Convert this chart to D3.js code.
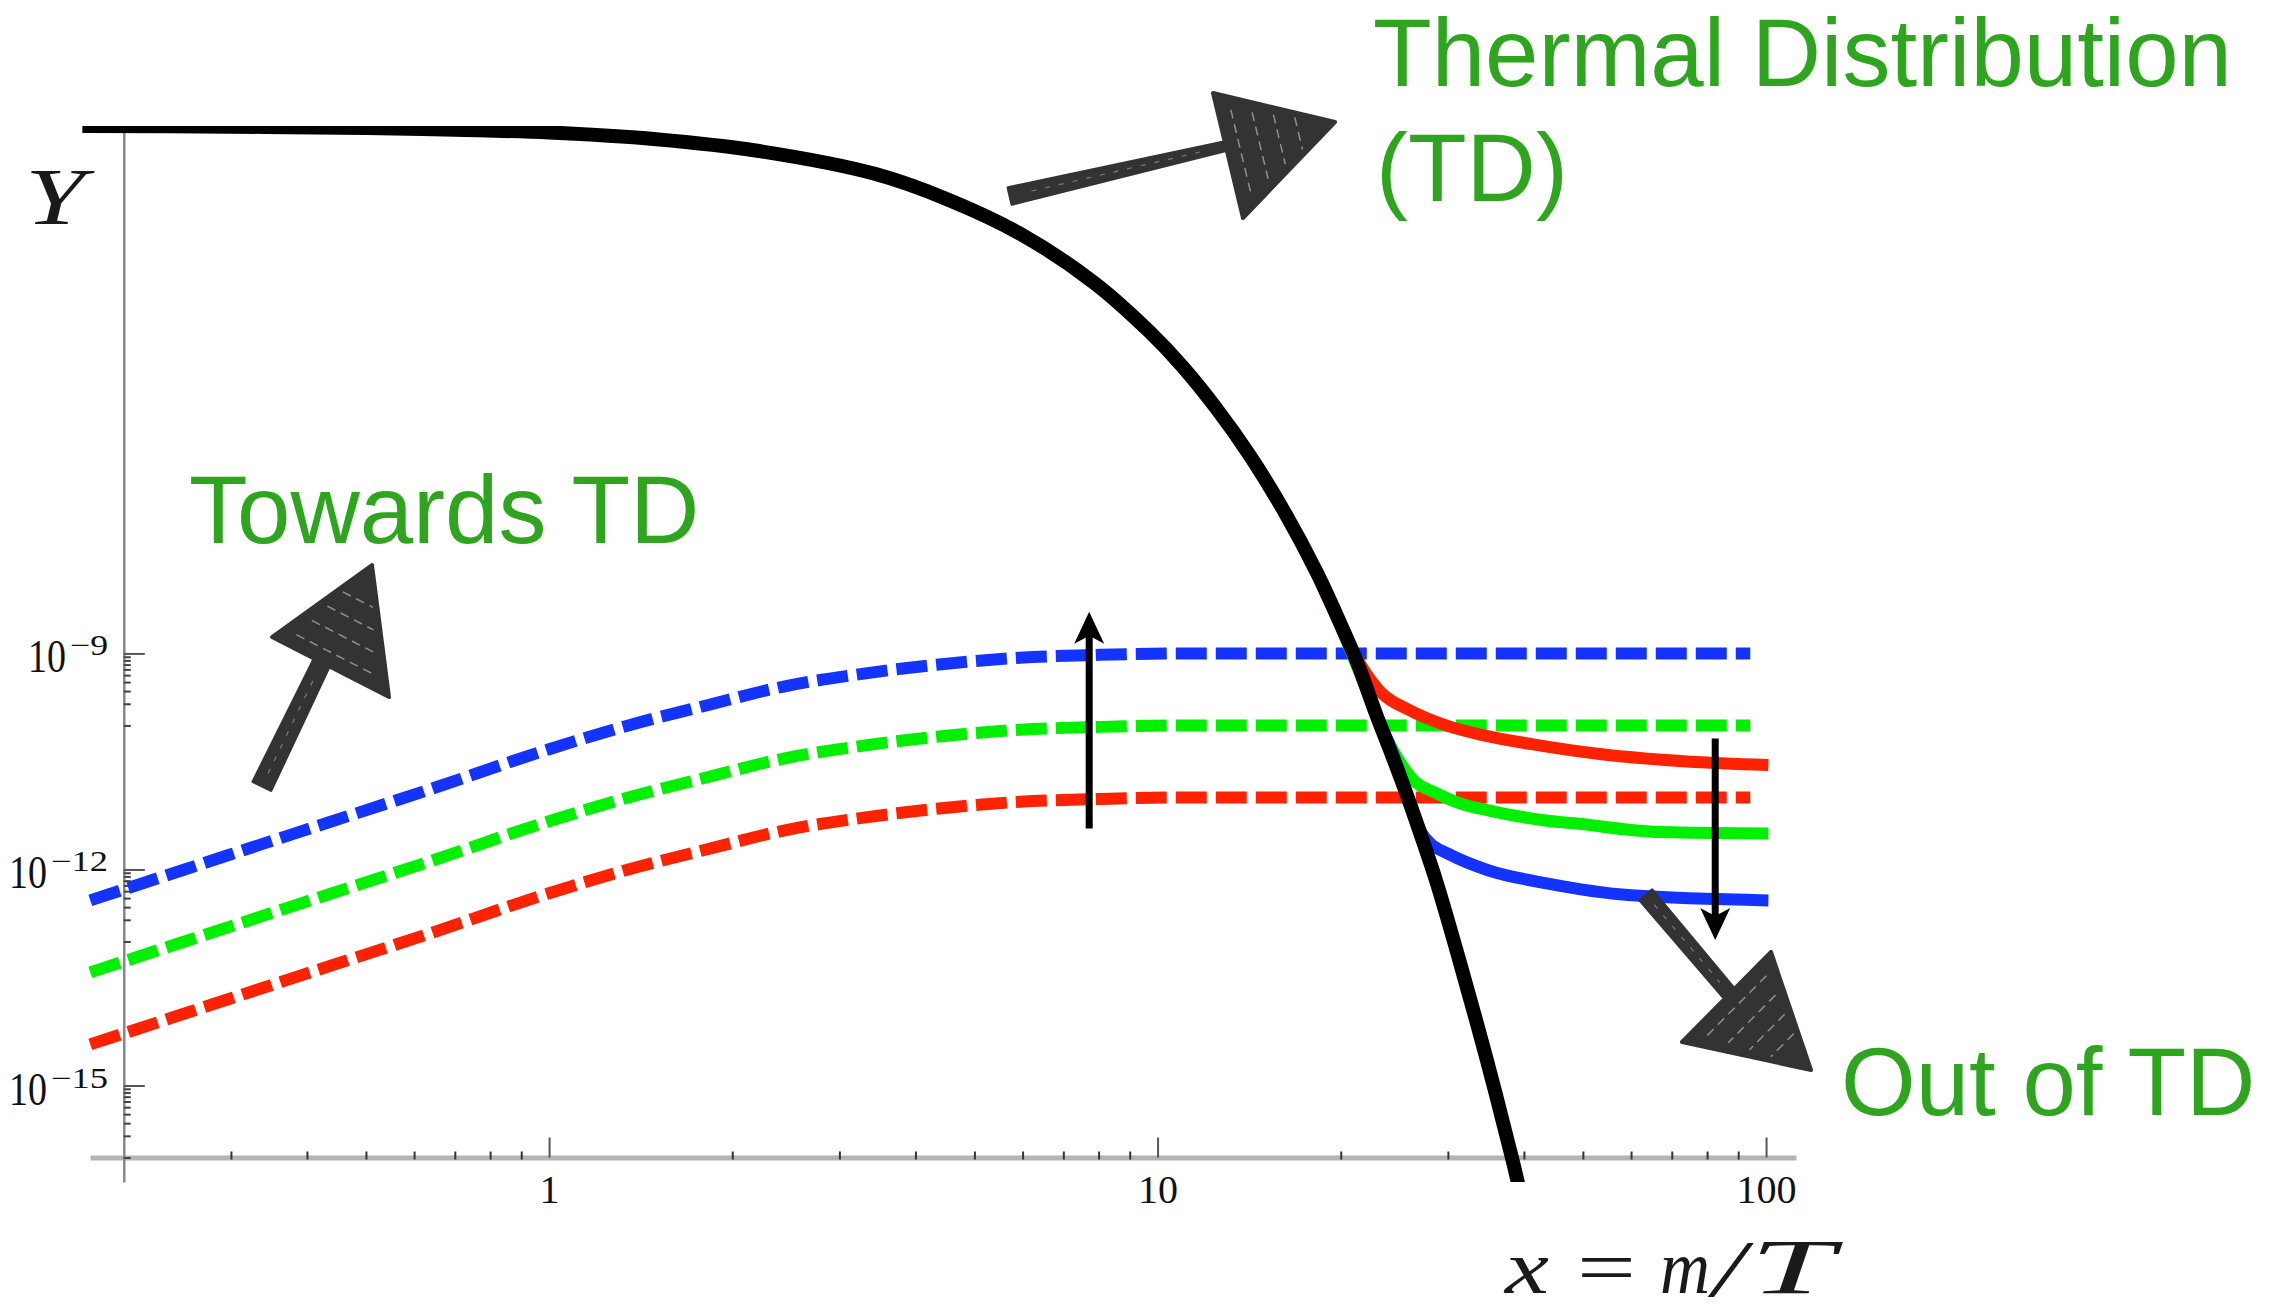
<!DOCTYPE html>
<html>
<head>
<meta charset="utf-8">
<script src="https://cdn.jsdelivr.net/npm/d3@7"></script>
<style>
  body { margin: 0; background: #fff; }
  svg { display: block; background: #fff; }
</style>
</head>
<body>
<svg id="chart" width="2287" height="1314"></svg>
<script>
"use strict";

// thermal (equilibrium) curve
const eqX = [0.171, 0.3, 0.5, 0.7, 1.0, 1.5, 2.2, 3.43, 4.53, 5.97, 7.87, 9.72, 11.0, 12.5, 14.2, 16.1, 18.3, 20.2, 21.3, 22.9, 24.3, 25.7, 27.0, 28.7, 31.3, 34.7, 38.2, 39.6];
const eqY = [0.02109, 0.02061, 0.01982, 0.01866, 0.01714, 0.01384, 0.00955, 4.57e-3, 2.0e-3, 6.61e-4, 1.40e-4, 2.88e-5, 9.55e-6, 2.51e-6, 5.5e-7, 9.77e-8, 1.29e-8, 2.09e-9, 7.41e-10, 1.38e-10, 3.80e-11, 1.07e-11, 3.24e-12, 6.92e-13, 5.62e-14, 2.40e-15, 1.02e-16, 2.82e-17];

// dashed curves (freeze-in), shared x positions
const dashX = [0.1762, 0.251, 0.398, 0.631, 1.0, 1.35, 1.82, 2.43, 3.29, 4.42, 5.94, 8.04, 11.2, 94.2];
const dashBlue = [3.72e-13, 9.9e-13, 3.55e-12, 1.26e-11, 4.68e-11, 1.0e-10, 1.91e-10, 3.47e-10, 5.25e-10, 7.08e-10, 8.71e-10, 9.55e-10, 1.0e-9, 1.0e-9];
const dashGreen = [3.72e-14, 9.9e-14, 3.55e-13, 1.26e-12, 4.68e-12, 1.0e-11, 1.91e-11, 3.47e-11, 5.25e-11, 7.08e-11, 8.71e-11, 9.55e-11, 1.0e-10, 1.0e-10];
const dashRed = [3.72e-15, 9.9e-15, 3.55e-14, 1.26e-13, 4.68e-13, 1.0e-12, 1.91e-12, 3.47e-12, 5.25e-12, 7.08e-12, 8.71e-12, 9.55e-12, 1.0e-11, 1.0e-11];

// solid curves (freeze-out)
const redX = [17.78, 19.82, 21.64, 23.34, 25.82, 30.04, 34.08, 41.18, 53.7, 74.1, 100.9];
const redY = [2.14e-8, 2.82e-9, 6.61e-10, 2.82e-10, 1.66e-10, 9.77e-11, 7.41e-11, 5.50e-11, 3.98e-11, 3.16e-11, 2.82e-11];
const greenX = [19.95, 21.25, 22.92, 23.77, 25.20, 26.33, 28.72, 31.32, 34.92, 43.40, 48.37, 66.96, 100.9];
const greenY = [2.51e-9, 6.76e-10, 1.38e-10, 6.76e-11, 2.82e-11, 1.74e-11, 1.15e-11, 8.32e-12, 6.61e-12, 4.79e-12, 4.37e-12, 3.31e-12, 3.16e-12];
const blueX = [22.39, 24.27, 26.33, 27.2, 28.09, 30.0, 34.92, 43.40, 60.1, 100.9];
const blueY = [2.19e-10, 4.47e-11, 6.31e-12, 3.16e-12, 2.29e-12, 1.66e-12, 9.77e-13, 6.46e-13, 4.37e-13, 3.72e-13];

// ticks
const xTickValues = [1, 10, 100];
const xTickLabels = ["1", "10", "100"];
const yTickValues = [1e-9, 1e-12, 1e-15];
const yTickExps = ["\u22129", "\u221212", "\u221215"];

// thin black arrows (x, from, to)
const arrowX = [7.72, 82.5];
const arrowFrom = [3.72e-12, 6.61e-11];
const arrowTo = [3.8e-9, 1.05e-13];

const green = "#2fa51f";
const serif = "'Liberation Serif', 'Times New Roman', serif";
const svg = d3.select("#chart");

const x = d3.scaleLog().domain([0.176, 112]).range([90, 1796]);
const y = d3.scaleLog().domain([Math.pow(10, -16.34), Math.pow(10, -1.676)]).range([1182, 126]);
const xOrigin = x(0.2);
const yOrigin = y(1e-16);

const zip = (xs, ys) => xs.map((v, i) => [v, ys[i]]);
const line = d3.line().x(d => x(d[0])).y(d => y(d[1])).curve(d3.curveMonotoneX);
const smoothLine = d3.line().x(d => x(d[0])).y(d => y(d[1])).curve(d3.curveCatmullRom.alpha(0.5));

// minor tick values
let xMinor = [];
for (let e of [0.1, 1, 10]) {
  for (let k = 2; k <= 9; k++) {
    let v = k * e;
    if (v > 0.2 && v < 100) xMinor.push(v);
  }
}
let yMinor = [];
for (let e of [1e-10, 1e-13, 1e-16]) {
  for (let k = 1; k <= 9; k++) yMinor.push(k * e);
}

/*
  axes
*/
const gx = svg.append("g").attr("transform", "translate(0," + yOrigin + ")")
  .call(d3.axisBottom(x).tickValues(xTickValues).tickSize(-20).tickSizeOuter(0)
    .tickFormat((d, i) => xTickLabels[i]));
gx.select(".domain").attr("stroke", "#b4b4b4").attr("stroke-width", 5);
gx.selectAll(".tick line").attr("stroke", "#555").attr("stroke-width", 2);
gx.selectAll(".tick text")
  .attr("y", 45).attr("dy", null)
  .attr("fill", "#111")
  .style("font-family", serif)
  .style("font-size", "40px");

const gxm = svg.append("g").attr("transform", "translate(0," + (yOrigin + 2) + ")")
  .call(d3.axisBottom(x).tickValues(xMinor).tickSize(-8).tickFormat(""));
gxm.select(".domain").remove();
gxm.selectAll(".tick line").attr("stroke", "#333").attr("stroke-width", 2);

const gy = svg.append("g").attr("transform", "translate(" + xOrigin + ",0)")
  .call(d3.axisLeft(y).tickValues(yTickValues).tickSize(-21).tickSizeOuter(0).tickFormat(""));
gy.select(".domain").attr("stroke", "#888").attr("stroke-width", 2.5);
gy.selectAll(".tick line").attr("stroke", "#555").attr("stroke-width", 2);

const gym = svg.append("g").attr("transform", "translate(" + xOrigin + ",0)")
  .call(d3.axisLeft(y).tickValues(yMinor).tickSize(-7).tickFormat(""));
gym.select(".domain").remove();
gym.selectAll(".tick line").attr("stroke", "#444").attr("stroke-width", 2);

// y tick labels: 10 with a superscript exponent
const labelRight = 108;
yTickValues.forEach(function (v, i) {
  let exp = yTickExps[i];
  let supW = exp.length * 19;
  let baseRight = labelRight - supW - 4;
  svg.append("text")
    .attr("x", baseRight - 38).attr("y", y(v) + 19)
    .attr("textLength", 38).attr("lengthAdjust", "spacingAndGlyphs")
    .style("font-family", serif).style("font-size", "46px")
    .attr("fill", "#111")
    .text("10");
  svg.append("text")
    .attr("x", labelRight - supW).attr("y", y(v) + 2)
    .attr("textLength", supW).attr("lengthAdjust", "spacingAndGlyphs")
    .style("font-family", serif).style("font-size", "29px")
    .attr("fill", "#111")
    .text(exp);
});

// axis titles
svg.append("text").attr("x", 25).attr("y", 224)
  .attr("textLength", 60).attr("lengthAdjust", "spacingAndGlyphs")
  .style("font-family", serif).style("font-style", "italic").style("font-size", "80px")
  .attr("fill", "#1a1a1a").text("Y");

const xLabelParts = [
  { t: "x", x: 1505, w: 44, it: true, fs: 76, base: 1293 },
  { t: "=", x: 1577, w: 59, it: false, fs: 76, base: 1293 },
  { t: "m", x: 1660, w: 50, it: true, fs: 76, base: 1293 },
  { t: "/", x: 1713, w: 32, it: true, fs: 80, base: 1296 },
  { t: "T", x: 1750, w: 84, it: true, fs: 78, base: 1293 }
];
for (let p of xLabelParts) {
  svg.append("text").attr("x", p.x).attr("y", p.base)
    .attr("textLength", p.w).attr("lengthAdjust", "spacingAndGlyphs")
    .style("font-family", serif).style("font-style", p.it ? "italic" : "normal")
    .style("font-size", p.fs + "px").attr("fill", "#1a1a1a").text(p.t);
}

/*
  curves
*/
svg.append("defs").append("clipPath").attr("id", "plotClip")
  .append("rect").attr("x", 0).attr("y", y.range()[1])
  .attr("width", 2287).attr("height", y.range()[0] - y.range()[1]);

const plot = svg.append("g").attr("clip-path", "url(#plotClip)");

const dashed = [
  { ys: dashBlue, color: "#1533ff" },
  { ys: dashGreen, color: "#00f000" },
  { ys: dashRed, color: "#ff2200" }
];
for (let s of dashed) {
  plot.append("path").datum(zip(dashX, s.ys))
    .attr("d", line).attr("fill", "none")
    .attr("stroke", s.color).attr("stroke-width", 12)
    .attr("stroke-dasharray", "31,9").attr("stroke-linecap", "butt");
}

const solids = [
  { xs: redX, ys: redY, color: "#ff2200" },
  { xs: greenX, ys: greenY, color: "#00f000" },
  { xs: blueX, ys: blueY, color: "#1533ff" }
];
for (let s of solids) {
  plot.append("path").datum(zip(s.xs, s.ys))
    .attr("d", line).attr("fill", "none")
    .attr("stroke", s.color).attr("stroke-width", 12)
    .attr("stroke-linecap", "butt").attr("stroke-linejoin", "round");
}

plot.append("path").datum(zip(eqX, eqY))
  .attr("d", smoothLine).attr("fill", "none")
  .attr("stroke", "#000").attr("stroke-width", 14)
  .attr("stroke-linecap", "butt").attr("stroke-linejoin", "round");

/*
  annotations
*/
// thin vertical arrows
arrowX.forEach(function (v, i) {
  let ax = x(v), y0 = y(arrowFrom[i]), y1 = y(arrowTo[i]);
  let dir = y1 < y0 ? 1 : -1; // 1 = pointing up
  svg.append("line").attr("x1", ax).attr("x2", ax)
    .attr("y1", y0).attr("y2", y1 + dir * 20)
    .attr("stroke", "#000").attr("stroke-width", 7);
  let head = [[ax, y1], [ax - 15, y1 + dir * 32], [ax, y1 + dir * 24], [ax + 15, y1 + dir * 32]];
  svg.append("polygon").attr("points", head.map(p => p.join(",")).join(" ")).attr("fill", "#000");
});

// hand-drawn style arrows
const sketchArrows = [
  { tail: [1010, 196], neck: [1226, 146], w0: 17, w1: 9, head: [[1213, 93], [1243, 218], [1335, 122]] },
  { tail: [262, 786], neck: [322, 662], w0: 20, w1: 17, head: [[272, 637], [389, 697], [372, 565]] },
  { tail: [1646, 895], neck: [1728, 992], w0: 16, w1: 14, head: [[1771, 952], [1682, 1042], [1811, 1070]] }
];
const lerp = (a, b, t) => [a[0] + (b[0] - a[0]) * t, a[1] + (b[1] - a[1]) * t];
for (let a of sketchArrows) {
  let g = svg.append("g");
  let dx = a.neck[0] - a.tail[0], dy = a.neck[1] - a.tail[1];
  let len = Math.hypot(dx, dy);
  let nx = -dy / len, ny = dx / len;
  let shaft = [
    [a.tail[0] + nx * a.w0 / 2, a.tail[1] + ny * a.w0 / 2],
    [a.neck[0] + nx * a.w1 / 2, a.neck[1] + ny * a.w1 / 2],
    [a.neck[0] - nx * a.w1 / 2, a.neck[1] - ny * a.w1 / 2],
    [a.tail[0] - nx * a.w0 / 2, a.tail[1] - ny * a.w0 / 2]
  ];
  g.append("polygon").attr("points", shaft.map(p => p.join(",")).join(" "))
    .attr("fill", "#333").attr("stroke", "#333").attr("stroke-width", 3).attr("stroke-linejoin", "round");
  g.append("polygon").attr("points", a.head.map(p => p.join(",")).join(" "))
    .attr("fill", "#333").attr("stroke", "#333").attr("stroke-width", 4).attr("stroke-linejoin", "round");
  // scratchy hatching inside the head
  for (let t of [0.12, 0.3, 0.48, 0.66]) {
    let p0 = lerp(lerp(a.head[0], a.head[2], t), lerp(a.head[1], a.head[2], t), 0.12);
    let p1 = lerp(lerp(a.head[0], a.head[2], t), lerp(a.head[1], a.head[2], t), 0.88);
    g.append("line").attr("x1", p0[0]).attr("y1", p0[1]).attr("x2", p1[0]).attr("y2", p1[1])
      .attr("stroke", "#fff").attr("stroke-opacity", 0.45).attr("stroke-width", 1.5)
      .attr("stroke-dasharray", "9,6");
  }
  // streaks along the shaft
  let m0 = lerp(a.tail, a.neck, 0.1), m1 = lerp(a.tail, a.neck, 0.9);
  g.append("line").attr("x1", m0[0]).attr("y1", m0[1]).attr("x2", m1[0]).attr("y2", m1[1])
    .attr("stroke", "#fff").attr("stroke-opacity", 0.35).attr("stroke-width", 1.2)
    .attr("stroke-dasharray", "5,9");
}

// green annotation text
const notes = [
  { t: "Thermal Distribution", x: 1373, y: 86 },
  { t: "(TD)", x: 1376, y: 201 },
  { t: "Towards TD", x: 189, y: 543 },
  { t: "Out of TD", x: 1841, y: 1115 }
];
svg.selectAll("text.note").data(notes).enter().append("text")
  .attr("class", "note")
  .attr("x", d => d.x).attr("y", d => d.y)
  .attr("fill", green)
  .style("font-family", "'Liberation Sans', Arial, Helvetica, sans-serif")
  .style("font-size", "96px")
  .text(d => d.t);
</script>
</body>
</html>
